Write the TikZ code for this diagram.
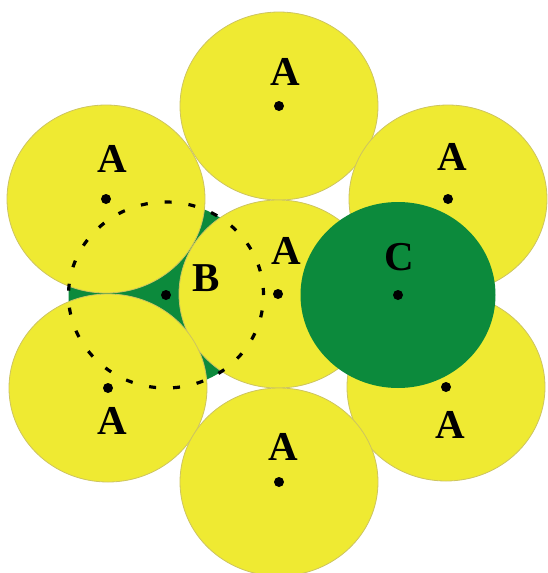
\documentclass[tikz,border=0pt]{standalone}
\usepackage{fontspec}
\setmainfont{Liberation Serif}
\usetikzlibrary{positioning,shapes.geometric}

\definecolor{ayellow}{RGB}{239,234,50}
\definecolor{aedge}{RGB}{205,196,96}
\definecolor{agreen}{RGB}{12,138,60}

\begin{document}
\begin{tikzpicture}[
    x=1pt, y=-1pt,
    atom/.style={ellipse, fill=ayellow, draw=aedge, line width=0.8pt, minimum width=198pt, minimum height=188pt, inner sep=0pt},
    hole/.style={ellipse, fill=agreen, minimum width=195pt, minimum height=186pt, inner sep=0pt},
    ring/.style={ellipse, draw, line width=3.2pt, dash pattern=on 7pt off 17pt, minimum width=195pt, minimum height=186pt, inner sep=0pt},
    pt/.style={circle, fill=black, minimum size=10pt, inner sep=0pt},
    lbl/.style={font=\fontsize{41}{41}\selectfont\bfseries, inner sep=0pt}
]
    \useasboundingbox (0,0) rectangle (547,573);

    % Layer B (seen through the gaps)
    \node[hole] (bdisc) at (166,295) {};

    % Layer A
    \node[atom] (atop) at (279,106) {};
    \node[atom] (aul) at (106,199) {};
    \node[atom] (aur) at (448,199) {};
    \node[atom] (amid) at (278,294) {};
    \node[atom] (all) at (108,388) {};
    \node[atom] (alr) at (446,387) {};
    \node[atom] (abot) at (279,482) {};

    % Layer C (on top)
    \node[hole] (cdisc) at (398,295) {};

    % Outline of the B sphere
    \node[ring] (bring) at (bdisc) {};

    % Centres
    \node[pt] (ptop) at (atop) {};
    \node[pt] (pul) at (aul) {};
    \node[pt] (pur) at (aur) {};
    \node[pt] (pmid) at (amid) {};
    \node[pt] (pll) at (all) {};
    \node[pt] (plr) at (alr) {};
    \node[pt] (pbot) at (abot) {};
    \node[pt] (pb) at (bdisc) {};
    \node[pt] (pc) at (cdisc) {};

    % Names
    \node[lbl] (ntop) at (285,72) {A};
    \node[lbl] (nul) at (112,159) {A};
    \node[lbl] (nur) at (452,157) {A};
    \node[lbl] (nmid) at (286,251) {A};
    \node[lbl] (nll) at (112,421) {A};
    \node[lbl] (nlr) at (450,425) {A};
    \node[lbl] (nbot) at (283,447) {A};
    \node[lbl] (nb) at (206,278) {B};
    \node[lbl] (nc) at (399,257) {C};
\end{tikzpicture}
\end{document}
